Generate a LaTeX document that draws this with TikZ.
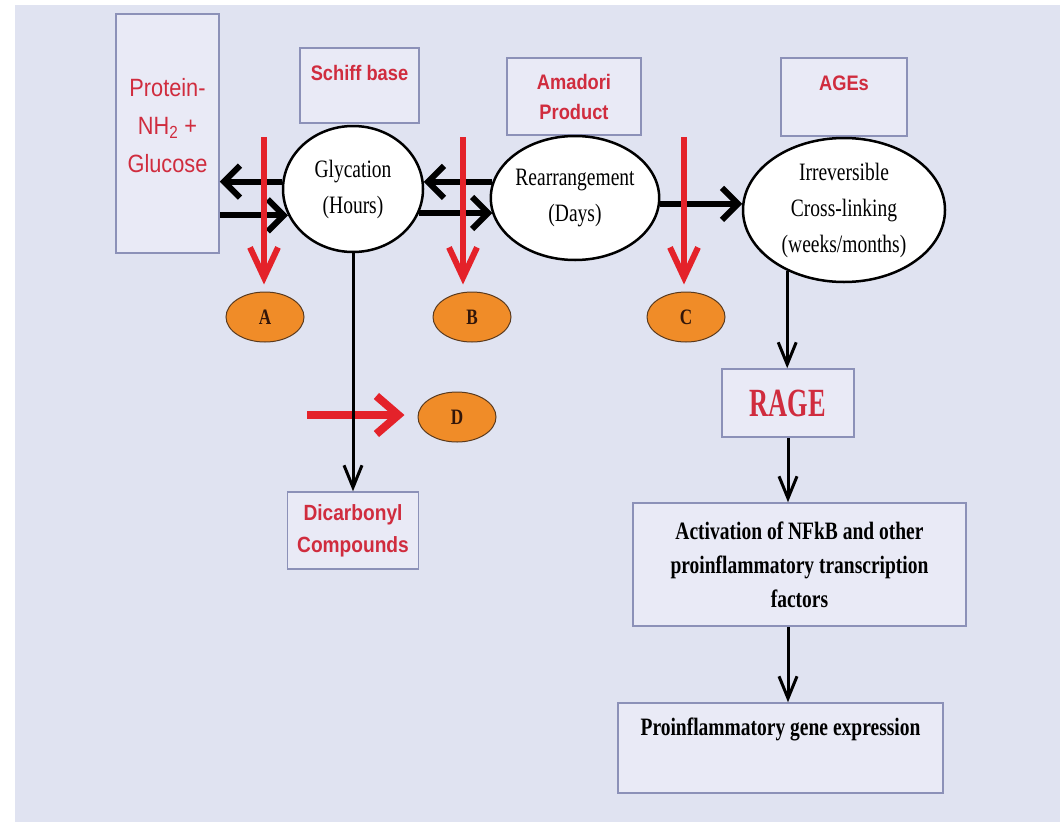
\documentclass[tikz,border=0pt]{standalone}
\usepackage{fontspec}
\newfontfamily\serifN[FakeStretch=0.78]{Liberation Serif}
\newfontfamily\sansN[FakeStretch=0.87]{Liberation Sans}
\newfontfamily\rageN[FakeStretch=0.66]{Liberation Serif}
\usetikzlibrary{shapes.geometric}
\usetikzlibrary{arrows.meta}
\usetikzlibrary{positioning}
\definecolor{lavender}{RGB}{224,227,241}
\definecolor{boxfill}{RGB}{233,234,246}
\definecolor{boxline}{RGB}{140,145,184}
\definecolor{labelred}{RGB}{208,44,62}
\definecolor{arrowred}{RGB}{228,34,42}
\definecolor{spotfill}{RGB}{240,140,40}
\definecolor{spotline}{RGB}{90,58,30}
\definecolor{letter}{RGB}{50,22,10}

\begin{document}
\begin{tikzpicture}[x=1pt,y=-1pt,
  graybox/.style={draw=boxline,fill=boxfill,line width=1.5pt,inner sep=0pt},
  ovalnode/.style={ellipse,draw,fill=white,line width=2.5pt,inner sep=0pt,align=center,
    font=\serifN\fontsize{25}{36}\selectfont},
  orangespot/.style={ellipse,draw=spotline,fill=spotfill,line width=1pt,inner sep=0pt,
    minimum width=78pt,minimum height=50pt,text=letter,
    font=\serifN\bfseries\fontsize{22}{22}\selectfont},
  redlabel/.style={text=labelred,align=center,font=\sansN\bfseries\fontsize{21}{30}\selectfont},
  bodytext/.style={align=center,font=\serifN\bfseries\fontsize{25}{34}\selectfont},
  blackarrow/.style={line width=6pt,-{Straight Barb[length=16pt,width=32pt]}},
  thinarrow/.style={line width=3pt,-{Straight Barb[length=22pt,width=18pt]}},
  redarrow/.style={draw=arrowred,line width=6pt,-{Straight Barb[length=30pt,width=28pt]}},
  redbig/.style={draw=arrowred,line width=8pt,-{Straight Barb[length=22pt,width=38pt]}}]

  \useasboundingbox (0,0) rectangle (1064,827);
  \fill[white] (0,0) rectangle (1064,827);
  \fill[lavender] (15,5) rectangle (1060,822);

  % boxes along the top
  \node[graybox,minimum width=103pt,minimum height=239pt] (prot) at (167.5,133.5) {};
  \node[text=labelred,align=center,font=\sansN\fontsize{25}{38}\selectfont]
    (prottxt) at ([yshift=8pt]prot) {Protein-\\NH\textsubscript{2} +\\Glucose};
  \node[graybox,minimum width=119pt,minimum height=75pt] (schiff) at (359.5,85.5) {};
  \node[redlabel,below=14pt of schiff.north] (schifftxt) {Schiff base};
  \node[graybox,redlabel,minimum width=134pt,minimum height=77pt] (amadori) at (574,96.5) {Amadori\\Product};
  \node[graybox,minimum width=126pt,minimum height=78pt] (ages) at (844,97) {};
  \node[redlabel,below=15pt of ages.north] (agestxt) {AGEs};

  % reaction steps
  \node[ovalnode,minimum width=140pt,minimum height=126pt] (glyc) at (353,189) {Glycation\\(Hours)};
  \node[ovalnode,minimum width=164pt,minimum height=124pt] (rearr) at (575,198) {Rearrangement\\(Days)};
  \node[ovalnode,minimum width=202pt,minimum height=144pt] (irrev) at (844,210) {Irreversible\\Cross-linking\\(weeks/months)};

  % inhibition points
  \node[orangespot] (a) at (265,317) {A};
  \node[orangespot] (b) at (472,317) {B};
  \node[orangespot] (c) at (686,317) {C};
  \node[orangespot] (d) at (457,417) {D};

  % lower boxes
  \node[graybox,redlabel,font=\sansN\bfseries\fontsize{22}{32}\selectfont,
    minimum width=131pt,minimum height=77pt] (dicarb) at (353,530.5) {Dicarbonyl\\Compounds};
  \node[graybox,text=labelred,font=\rageN\bfseries\fontsize{40}{40}\selectfont,
    minimum width=132pt,minimum height=68pt] (rage) at (788,403) {RAGE};
  \node[graybox,bodytext,minimum width=333pt,minimum height=123pt] (act) at (799.5,564.5)
    {Activation of NFkB and other\\proinflammatory transcription\\factors};
  \node[graybox,minimum width=325pt,minimum height=90pt] (gene) at (780.5,748) {};
  \node[bodytext,below=12pt of gene.north] (genetxt) {Proinflammatory gene expression};

  \coordinate (atop) at (264,137);
  \coordinate (btop) at (463,137);
  \coordinate (ctop) at (684,137);
  \coordinate (dstart) at (307,415);

  % black arrows
  \draw[blackarrow] (glyc.174) -- (glyc.174 -| prot.east);
  \draw[blackarrow] (prot.east |- glyc.202) -- (glyc.202);
  \draw[blackarrow] (rearr.169) -- (rearr.169 -| glyc.6);
  \draw[blackarrow] (glyc.340) -- (glyc.340 -| rearr.191);
  \draw[blackarrow] (rearr.356) -- (rearr.356 -| irrev.176);

  % red arrows
  \draw[redarrow,shorten >=7pt] (atop) -- (atop |- a.north);
  \draw[redarrow,shorten >=7pt] (btop) -- (btop |- b.north);
  \draw[redarrow,shorten >=7pt] (ctop) -- (ctop |- c.north);
  \draw[redbig,shorten >=13pt] (dstart) -- (dstart -| d.west);

  % downward chain
  \draw[thinarrow] (glyc.south) -- (dicarb.north);
  \draw[thinarrow] (irrev.227) -- (irrev.227 |- rage.north);
  \draw[thinarrow] (rage.south) -- (rage.south |- act.north);
  \draw[thinarrow] (act.south -| rage.south) -- (rage.south |- gene.north);
\end{tikzpicture}
\end{document}
